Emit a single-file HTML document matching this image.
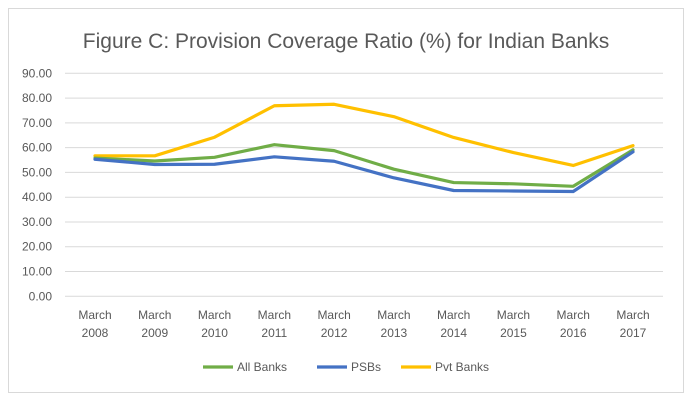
<!DOCTYPE html>
<html><head><meta charset="utf-8"><style>
body{margin:0;background:#fff;font-family:"Liberation Sans",sans-serif}
svg text{font-family:"Liberation Sans",sans-serif;fill:#595959}
</style></head><body>
<svg width="693" height="401">
<rect x="8.5" y="8.5" width="675" height="384" fill="#fff" stroke="#d9d9d9"/>
<text x="346" y="48" text-anchor="middle" font-size="21">Figure C: Provision Coverage Ratio (%) for Indian Banks</text>
<g id="grid"></g><g id="lines"></g><g id="xl"></g>
<g id="legend"></g>
</svg>
<script>
const categories=["2008","2009","2010","2011","2012","2013","2014","2015","2016","2017"];
const allBanks=[55.8,54.6,56.1,61.2,58.8,51.3,45.9,45.4,44.4,59.1];
const psbs=[55.3,53.2,53.3,56.3,54.5,47.8,42.7,42.5,42.3,58.3];
const pvtBanks=[56.7,56.7,64.2,76.9,77.5,72.5,64.1,58.0,52.8,60.8];
const yTicks=[0,10,20,30,40,50,60,70,80,90];
const NS="http://www.w3.org/2000/svg";
const y=v=>296.3-v*(296.3-73.3)/90;
const x=i=>95+i*(633-95)/9;
function mk(t,a,p){const e=document.createElementNS(NS,t);for(const k in a)e.setAttribute(k,a[k]);p.appendChild(e);return e;}
const grid=document.getElementById('grid');
yTicks.forEach(v=>{
 const l=mk('line',{x1:65,x2:663,y1:y(v),y2:y(v),stroke:'#d9d9d9','stroke-width':1},grid);
 
 
 const t=mk('text',{x:52,y:y(v)+4,'text-anchor':'end','font-size':12},grid);
 t.textContent=v.toFixed(2);
 
 
});
const xl=document.getElementById('xl');
categories.forEach((c,i)=>{
 const t=mk('text',{x:x(i),y:319,'text-anchor':'middle','font-size':12},xl);
 t.textContent='March';
 
 
 const t2=mk('text',{x:x(i),y:337,'text-anchor':'middle','font-size':12},xl);
 t2.textContent=c;
 
 
});
const series=[["All Banks",allBanks,"#70ad47"],["PSBs",psbs,"#4472c4"],["Pvt Banks",pvtBanks,"#ffc000"]];
const lines=document.getElementById('lines');
[series[2],series[0],series[1]].forEach(s=>{
 const p=mk('polyline',{points:s[1].map((v,i)=>x(i)+','+y(v)).join(' '),fill:'none',stroke:s[2],'stroke-width':3.2,'stroke-linejoin':'round','stroke-linecap':'round'},lines);
 
 
});
const lg=document.getElementById('legend');
const lx=[203,317,401];
series.forEach((s,i)=>{
 const l=mk('line',{x1:lx[i],x2:lx[i]+30,y1:367,y2:367,stroke:s[2],'stroke-width':3.2},lg);
 
 
 const t=mk('text',{x:lx[i]+34,y:371,'font-size':12},lg);
 t.textContent=s[0];
 
 
});
</script>
</body></html>
